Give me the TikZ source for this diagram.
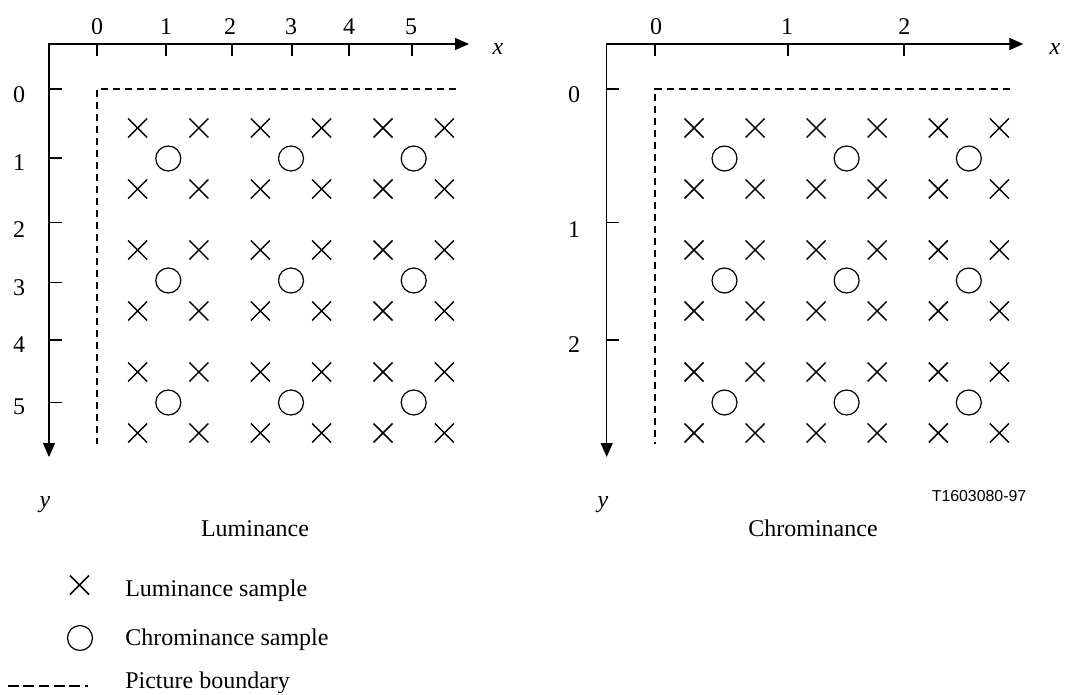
\documentclass[tikz,border=0pt]{standalone}
\usepackage{fontspec}
\setmainfont{Liberation Serif}
\newfontfamily\arialfont{Liberation Sans}
\usetikzlibrary{arrows.meta}
\begin{document}
\begin{tikzpicture}[x=0.75pt,y=-0.75pt,
  lbl/.style={font=\fontsize{18}{22}\selectfont, inner sep=0pt},
  axisln/.style={line width=1pt, {Triangle[length=10.5pt,width=9pt]}-{Triangle[length=10.5pt,width=9pt]}},
  tickln/.style={line width=1pt},
  xtickln/.style={line width=1.5pt},
  boundary/.style={line width=1.5pt, dash pattern=on 5.6pt off 3.4pt},
  legdash/.style={line width=1.5pt, dash pattern=on 8pt off 3.5pt},
  xmark/.style={line width=1.1pt},
  omark/.style={line width=0.9pt}]
\useasboundingbox (0,0) rectangle (1066,695);

% ---------------- Luminance ----------------
\coordinate (LO) at (49,44);
\coordinate (LX) at (469,44);
\coordinate (LY) at (49,457);
\draw[axisln] (LX) -- (LO) -- (LY);
\node[lbl, font=\fontsize{18}{22}\selectfont\itshape, anchor=base] (Lxl) at (498,55) {x};
\node[lbl, font=\fontsize{18}{22}\selectfont\itshape, anchor=base] (Lyl) at (45,507) {y};
\foreach \t/\lx/\l in {97/97/0,166/166/1,231.5/230/2,292/291/3,349/349/4,412/411/5}{
  \draw[xtickln] (\t,44) -- (\t,56);
  \node[lbl] (Ltx\l) at (\lx,27) {\l};
}
\foreach \t/\ly/\l in {89/95/0,158/163/1,222.7/230/2,282.7/288/3,340/345/4,402.7/407/5}{
  \draw[tickln] (49,\t) -- (61.7,\t);
  \node[lbl] (Lty\l) at (19,\ly) {\l};
}
\coordinate (LB1) at (456,89);
\coordinate (LB0) at (97,89);
\coordinate (LB2) at (97,444);
\draw[boundary] (LB1) -- (LB0) -- (LB2);
\foreach \x in {137.6,198.95,260.3,321.65,383,444.35}
  \foreach \y in {128,189,250,311,372,433}
    {\draw[xmark] (\x,\y) ++(-9.5,-9.5) -- ++(19,19) ++(-19,0) -- ++(19,-19);}
\foreach \x in {168.3,291,413.7}
  \foreach \y in {158.5,280.5,402.5}
    {\draw[omark] (\x,\y) circle[radius=9.375pt];}
\node[lbl, anchor=base] (Lcap) at (255,536) {Luminance};

% ---------------- Chrominance ----------------
\coordinate (CO) at (606.7,44);
\coordinate (CX) at (1023.3,44);
\coordinate (CY) at (606.7,457);
\draw[axisln] (CX) -- (CO) -- (CY);
\node[lbl, font=\fontsize{18}{22}\selectfont\itshape, anchor=base] (Cxl) at (1055,55) {x};
\node[lbl, font=\fontsize{18}{22}\selectfont\itshape, anchor=base] (Cyl) at (603,507) {y};
\foreach \t/\lx/\l in {655/656/0,788.3/787/1,904.3/904.3/2}{
  \draw[xtickln] (\t,44) -- (\t,56);
  \node[lbl] (Ctx\l) at (\lx,27) {\l};
}
\foreach \t/\ly/\l in {89/95/0,222.7/230/1,340/345/2}{
  \draw[tickln] (606.7,\t) -- (619.3,\t);
  \node[lbl] (Cty\l) at (574,\ly) {\l};
}
\coordinate (CB1) at (1010,89);
\coordinate (CB0) at (655,89);
\coordinate (CB2) at (655,444);
\draw[boundary] (CB1) -- (CB0) -- (CB2);
\foreach \x in {694,755.06,816.12,877.18,938.24,999.3}
  \foreach \y in {128,189,250,311,372,433}
    {\draw[xmark] (\x,\y) ++(-9.5,-9.5) -- ++(19,19) ++(-19,0) -- ++(19,-19);}
\foreach \x in {724.5,846.6,968.8}
  \foreach \y in {158.5,280.5,402.5}
    {\draw[omark] (\x,\y) circle[radius=9.375pt];}
\node[lbl, anchor=base] (Ccap) at (813,536) {Chrominance};
\node[inner sep=0pt, font=\arialfont\fontsize{11.9}{14}\selectfont, anchor=base] (fig) at (979,501.7) {T1603080-97};

% ---------------- Legend ----------------
\draw[xmark] (79.5,585) ++(-9.5,-9.5) -- ++(19,19) ++(-19,0) -- ++(19,-19);
\draw[omark] (80,638) circle[radius=9.375pt];
\coordinate (LD0) at (8,686);
\coordinate (LD1) at (88,686);
\draw[legdash] (LD0) -- (LD1);
\node[lbl, anchor=base west] (leg1) at (125,596) {Luminance sample};
\node[lbl, anchor=base west] (leg2) at (125,645) {Chrominance sample};
\node[lbl, anchor=base west] (leg3) at (125,688) {Picture boundary};
\end{tikzpicture}
\end{document}
